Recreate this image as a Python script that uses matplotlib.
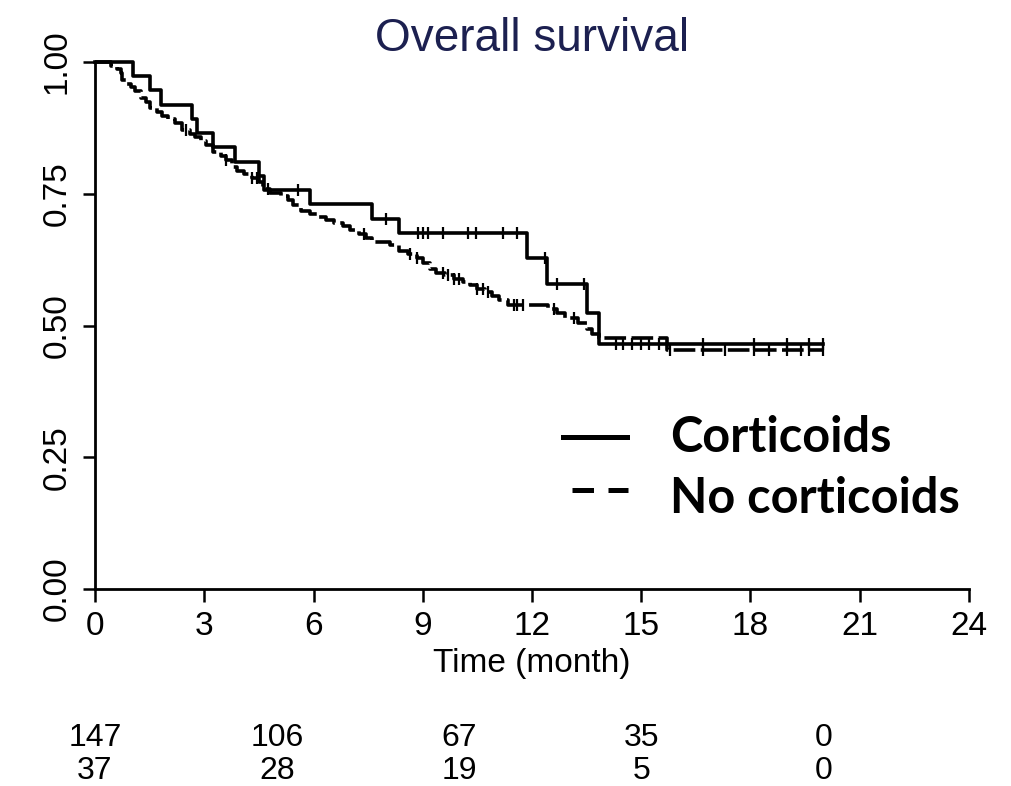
import numpy as np
import matplotlib.pyplot as plt

plt.rcParams['font.family'] = ['Liberation Sans', 'DejaVu Sans']

# Kaplan-Meier steps: time of each drop (months) and survival after it
cort_t = [0, 1.05, 1.5, 1.8, 2.65, 2.8, 3.25, 3.85, 4.5, 4.65, 5.9, 7.6, 8.35,
          11.85, 12.4, 13.5, 13.85]
cort_s = [1.0, 0.973, 0.946, 0.919, 0.892, 0.865, 0.838, 0.811, 0.784, 0.757,
          0.730, 0.703, 0.676, 0.628, 0.579, 0.524, 0.465]
cort_cens = [5.58, 8.0, 8.87, 9.0, 9.15, 9.55, 10.25, 10.45, 11.2, 11.6, 12.35,
             12.7, 13.43, 14.3, 14.5, 14.75, 15.0, 15.2, 15.5, 16.7, 18.1,
             19.0, 19.6, 20.0]

nocort_t = [0, 0.45, 0.6, 0.7, 0.75, 0.85, 1.0, 1.1, 1.25, 1.4, 1.5, 1.7, 1.85,
            2.0, 2.2, 2.4, 2.6, 2.75, 2.9, 3.05, 3.25, 3.45, 3.6, 3.75, 3.9,
            4.1, 4.3, 4.5, 4.6, 4.8, 5.1, 5.3, 5.45, 5.65, 5.9, 6.1, 6.35,
            6.55, 6.8, 7.0, 7.25, 7.45, 7.6, 8.1, 8.35, 8.6, 8.85, 9.0, 9.2,
            9.35, 9.6, 9.85, 10.1, 10.3, 10.5, 10.7, 10.9, 11.1, 11.35, 12.45,
            12.7, 12.9, 13.25, 13.5, 13.65, 13.85, 15.7]
nocort_s = [1.0, 0.993, 0.986, 0.979, 0.966, 0.959, 0.952, 0.945, 0.932, 0.925,
            0.912, 0.905, 0.898, 0.891, 0.884, 0.871, 0.864, 0.857, 0.850,
            0.843, 0.829, 0.822, 0.815, 0.801, 0.794, 0.787, 0.780, 0.773,
            0.759, 0.752, 0.745, 0.738, 0.728, 0.718, 0.711, 0.706, 0.700,
            0.695, 0.688, 0.681, 0.674, 0.667, 0.659, 0.652, 0.641, 0.635,
            0.628, 0.619, 0.608, 0.600, 0.595, 0.589, 0.583, 0.577, 0.570,
            0.563, 0.556, 0.548, 0.539, 0.531, 0.523, 0.515, 0.505, 0.493,
            0.484, 0.476, 0.453]
nocort_cens = [2.5, 3.6, 4.3, 4.45, 4.75, 7.4, 8.65, 8.85, 9.55, 9.7, 9.85,
               10.0, 10.5, 10.65, 10.8, 11.5, 11.6, 11.75, 12.6, 13.15, 15.8,
               16.7, 17.3, 18.1, 18.5, 19.0, 19.4, 19.6, 20.0]
t_end = 20.0

# numbers at risk
risk_times = [0, 5, 10, 15, 20]
risk_nocort = [147, 106, 67, 35, 0]
risk_cort = [37, 28, 19, 5, 0]


def surv_at(times, surv, x):
    idx = np.searchsorted(times, x, side='right') - 1
    return np.array(surv)[idx]


fig = plt.figure(figsize=(10.12, 7.86), dpi=100)
ax = fig.add_axes([0.0939, 0.2506, 0.8636, 0.6705])

lw = 2.6
ax.step(cort_t + [t_end], cort_s + [cort_s[-1]], where='post', color='black',
        lw=lw, clip_on=False)
ax.step(nocort_t + [t_end], nocort_s + [nocort_s[-1]], where='post',
        color='black', lw=lw, linestyle=(0, (6, 1.5)), clip_on=False)

ax.plot(cort_cens, surv_at(cort_t, cort_s, cort_cens), linestyle='none',
        marker='|', markersize=8, mew=1.6, color='black', clip_on=False)
ax.plot(nocort_cens, surv_at(nocort_t, nocort_s, nocort_cens),
        linestyle='none', marker='|', markersize=8, mew=1.6, color='black',
        clip_on=False)

ax.set_xlim(0, 24)
ax.set_ylim(0, 1)
ax.set_xticks(np.arange(0, 25, 3))
ax.set_yticks([0, 0.25, 0.5, 0.75, 1.0])
ax.set_yticklabels(['0.00', '0.25', '0.50', '0.75', '1.00'], rotation=90,
                   va='center')
for s in ['top', 'right']:
    ax.spines[s].set_visible(False)
for s in ['left', 'bottom']:
    ax.spines[s].set_linewidth(2.0)
ax.tick_params(length=9, width=1.8, labelsize=24, pad=7)
ax.set_xlabel('Time (month)', fontsize=24, labelpad=4)
ax.set_title('Overall survival', fontsize=33, color='#1c2050', pad=8)

# legend drawn by hand
ax.plot([12.86, 14.6], [0.288, 0.288], color='black', lw=3.6)
ax.plot([13.1, 14.64], [0.188, 0.188], color='black', lw=3.6,
        linestyle=(0, (4.3, 2.9)))
ax.text(15.8, 0.288, 'Corticoids', fontsize=35, fontweight='bold',
        family=['Lato', 'DejaVu Sans'], va='center')
ax.text(15.8, 0.172, 'No corticoids', fontsize=35, fontweight='bold',
        family=['Lato', 'DejaVu Sans'], va='center')

# risk table under the axis
trans = ax.get_xaxis_transform()
for x, a, b in zip(risk_times, risk_nocort, risk_cort):
    ax.text(x, -0.282, str(a), transform=trans, ha='center', va='center',
            fontsize=23, clip_on=False)
    ax.text(x, -0.345, str(b), transform=trans, ha='center', va='center',
            fontsize=23, clip_on=False)

fig.savefig('out.png', dpi=100)
